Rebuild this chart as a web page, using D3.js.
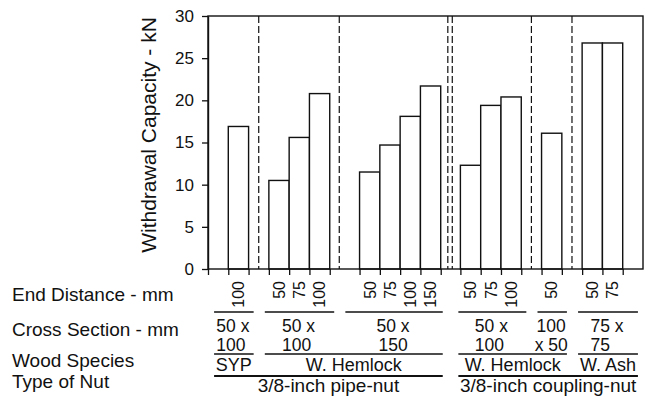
<!DOCTYPE html>
<html><head><meta charset="utf-8">
<script src="https://cdn.jsdelivr.net/npm/d3@7"></script>
<style>
body{margin:0;background:#fff}
text{font-family:"Liberation Sans",Arial,Helvetica,sans-serif;fill:#111}
</style>
</head><body>
<svg id="chart" width="647" height="398"></svg>
<script>
// ---------- data ----------
const endDistance = ["100","50","75","100","50","75","100","150","50","75","100","50","50","75"];
const withdrawal  = [16.9,10.5,15.6,20.8,11.5,14.7,18.1,21.7,12.3,19.4,20.4,16.1,26.8,26.8];
const barGroup    = [0,1,1,1,2,2,2,2,3,3,3,4,5,5];
const crossSection = [["50 x","100"],["50 x","100"],["50 x","150"],["50 x","100"],["100","x 50"],["75 x","75"]];
const speciesLabels = ["SYP","W. Hemlock","W. Hemlock","W. Ash"];
const speciesGroups = [[0],[1,2],[3,4],[5]];
const nutLabels = ["3/8-inch pipe-nut","3/8-inch coupling-nut"];
const nutGroups = [[0,1,2],[3,4,5]];
const rowLabels = ["End Distance - mm","Cross Section - mm","Wood Species","Type of Nut"];
const yTicks = [0,5,10,15,20,25,30];
const yTitle = "Withdrawal Capacity - kN";

// ---------- layout / style ----------
const plot = {left:208, right:643, top:16, bottom:269};
const groupPad = [[1.0,0.5],[0.5,0.47],[1.0,0.35],[0.4,0.5],[0.5,0.5],[0.5,1.0]];
const doubleSepAfter = 2, doubleGap = 0.22;
const crossAlign = ["start","start","middle","start","middle","start"];
const ink = "#111";

const nGroups = groupPad.length;
let pos = 0;
const groupSpan = [], seps = [], barX = [];
for (let g = 0; g < nGroups; g++) {
  const start = pos;
  pos += groupPad[g][0];
  barGroup.forEach((bg, i) => { if (bg === g) { barX[i] = pos; pos += 1; } });
  pos += groupPad[g][1];
  groupSpan.push([start, pos]);
  if (g < nGroups - 1) {
    seps.push(pos);
    if (g === doubleSepAfter) { pos += doubleGap; seps.push(pos); }
  }
}

const svg = d3.select("#chart");
const x = d3.scaleLinear().domain([0, pos]).range([plot.left, plot.right]);
const y = d3.scaleLinear().domain([0, 30]).range([plot.bottom, plot.top]);

// bars
svg.append("g").selectAll("rect").data(withdrawal).join("rect")
  .attr("x", (d,i) => x(barX[i]))
  .attr("width", (d,i) => x(barX[i]+1) - x(barX[i]))
  .attr("y", d => y(d))
  .attr("height", d => y(0) - y(d))
  .attr("fill", "#fff").attr("stroke", ink).attr("stroke-width", 1.4);

// dashed separators
svg.append("g").selectAll("line").data(seps).join("line")
  .attr("x1", d => x(d)).attr("x2", d => x(d))
  .attr("y1", plot.top).attr("y2", plot.bottom)
  .attr("stroke", ink).attr("stroke-width", 1.2).attr("stroke-dasharray", "7,3");

// frame
svg.append("rect").attr("x", plot.left).attr("y", plot.top)
  .attr("width", plot.right - plot.left).attr("height", plot.bottom - plot.top)
  .attr("fill", "none").attr("stroke", ink).attr("stroke-width", 1.4);

// y axis
const ya = svg.append("g").attr("transform", `translate(${plot.left},0)`)
  .call(d3.axisLeft(y).tickValues(yTicks).tickSize(6).tickPadding(8).tickSizeOuter(0));
ya.select(".domain").attr("stroke", ink).attr("stroke-width", 1.4);
ya.selectAll(".tick line").attr("stroke", ink).attr("stroke-width", 1.3);
ya.selectAll(".tick text").attr("font-size", 17).attr("fill", ink)
  .style("font-family", '"Liberation Sans",Arial,sans-serif');

// bottom ticks at bar edges
const edges = [0];
barX.forEach(b => { edges.push(b, b+1); });
const xa = svg.append("g").attr("transform", `translate(0,${plot.bottom})`)
  .call(d3.axisBottom(x).tickValues(Array.from(new Set(edges.map(e => +e.toFixed(3))))).tickSize(6).tickFormat(""));
xa.select(".domain").remove();
xa.selectAll(".tick line").attr("stroke", ink).attr("stroke-width", 1.3);

// y title
svg.append("text")
  .attr("transform", `translate(156,135) rotate(-90)`)
  .attr("text-anchor", "middle").attr("font-size", 21).text(yTitle);

// row labels
const rowBase = [300.5, 335.5, 367, 387.5];
svg.append("g").selectAll("text").data(rowLabels).join("text")
  .attr("x", 12).attr("y", (d,i) => rowBase[i]).attr("font-size", 19).text(d => d);

// end distance labels (rotated)
svg.append("g").selectAll("text").data(endDistance).join("text")
  .attr("transform", (d,i) => `translate(${x(barX[i]+0.5)+5.8},281) rotate(-90)`)
  .attr("text-anchor", "end").attr("font-size", 16).text(d => d);

const inL = 0.3, inR = 0.25;
function spanOf(groups) {
  return [x(groupSpan[groups[0]][0] + inL), x(groupSpan[groups[groups.length-1]][1] - inR)];
}

// end distance underlines
svg.append("g").selectAll("line").data(groupSpan).join("line")
  .attr("x1", (d,i) => spanOf([i])[0]).attr("x2", (d,i) => spanOf([i])[1])
  .attr("y1", 312).attr("y2", 312).attr("stroke", ink).attr("stroke-width", 1.5);

// cross-section text (two lines)
crossSection.forEach((lines, g) => {
  const [a, b] = spanOf([g]);
  const cx = (a + b) / 2 - 1;
  const t1 = svg.append("text").attr("font-size", 17.5).attr("y", 331.5).text(lines[0]);
  const t2 = svg.append("text").attr("font-size", 17.5).attr("y", 350.5).text(lines[1]);
  if (crossAlign[g] === "middle") {
    t1.attr("x", cx).attr("text-anchor", "middle");
    t2.attr("x", cx).attr("text-anchor", "middle");
  } else {
    const w = t1.node().getComputedTextLength();
    t1.attr("x", cx - w/2); t2.attr("x", cx - w/2);
  }
});

// species lines + labels
speciesGroups.forEach((gs, k) => {
  const [a, b] = spanOf(gs);
  svg.append("line").attr("x1", a).attr("x2", b).attr("y1", 354).attr("y2", 354)
    .attr("stroke", ink).attr("stroke-width", 1.6);
  svg.append("text").attr("x", (a+b)/2).attr("y", 370.5).attr("text-anchor", "middle")
    .attr("font-size", 18).text(speciesLabels[k]);
});

// nut lines + labels
nutGroups.forEach((gs, k) => {
  const [a, b] = spanOf(gs);
  svg.append("line").attr("x1", a).attr("x2", b).attr("y1", 376).attr("y2", 376)
    .attr("stroke", ink).attr("stroke-width", 1.8);
  svg.append("text").attr("x", (a+b)/2).attr("y", 391.5).attr("text-anchor", "middle")
    .attr("font-size", 19).text(nutLabels[k]);
});
</script>
</body></html>
